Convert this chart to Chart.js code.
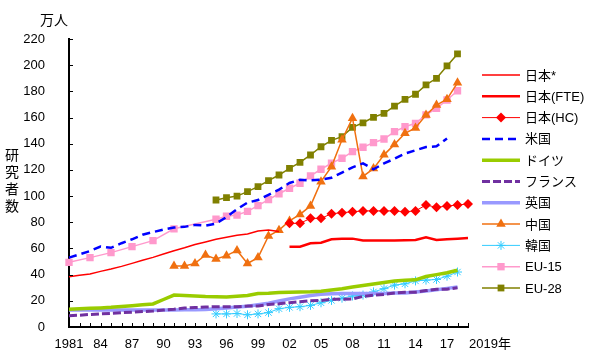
<!DOCTYPE html>
<html><head><meta charset="utf-8">
<script src="https://cdn.jsdelivr.net/npm/chart.js@4/dist/chart.umd.min.js"></script>
<style>html,body{margin:0;padding:0;background:#fff}canvas{display:block}</style>
</head><body>
<canvas id="c" width="600" height="362"></canvas>
<script>
const years = ['1981','1982','1983','1984','1985','1986','1987','1988','1989','1990','1991','1992','1993','1994','1995','1996','1997','1998','1999','2000','2001','2002','2003','2004','2005','2006','2007','2008','2009','2010','2011','2012','2013','2014','2015','2016','2017','2018','2019'];
const tickYears = ['1981','1984','1987','1990','1993','1996','1999','2002','2005','2008','2011','2014','2017'];
const tickText  = ['1981','84','87','90','93','96','99','02','05','08','11','14','17'];
const lastLabel = '2019年';
const yUnit = '万人';
const yTitle = '研究者数';

// values (万人); comment = year range
const japanOld = [38.4,39.5,40.5,42.5,44.3,46.3,48.6,51.0,53.2,55.8,58.3,60.5,63.0,65.0,67.0,68.5,70.0,71.0,73.3,74.0,73.0]; // 1981-2001
const japanFTE = [61.3,61.3,63.9,64.4,67.0,67.5,67.5,66.0,66.0,66.0,66.0,66.2,66.5,68.5,66.5,67.0,67.5,68.0]; // 2002-2019
const japanHC  = [79.2,79.2,83.0,83.0,86.5,87.3,88.0,88.7,88.7,88.7,88.7,88.0,88.7,93.2,91.4,92.4,93.2,94.0]; // 2002-2019
const usa      = [53.0,55.5,58.0,61.5,60.5,64.0,67.0,70.5,72.5,74.5,76.0,76.5,78.0,77.5,79.0,84.0,90.0,95.0,97.0,101.0,105.0,110.0,112.5,112.0,112.5,114.0,118.0,122.0,125.0,120.5,125.0,128.5,132.5,135.0,137.5,138.0,144.0]; // 1981-2017
const germany  = [13.5,13.9,14.3,14.6,15.0,15.7,16.3,17.0,17.6,21.0,24.4,24.0,23.7,23.3,23.1,23.0,23.5,24.0,25.5,25.8,26.4,26.6,26.8,27.0,27.4,28.3,29.3,30.5,31.7,32.8,34.0,35.2,35.8,36.0,38.6,40.0,41.4,43.4]; // 1981-2018
const france   = [8.6,9.0,9.6,10.0,10.4,10.9,11.3,11.8,12.2,12.9,13.5,14.5,14.9,15.2,15.5,15.5,15.5,16.0,16.0,17.2,17.7,18.6,19.3,20.0,20.3,21.1,21.2,21.5,23.4,24.3,24.9,25.9,26.6,26.6,27.8,28.8,28.9,30.0]; // 1981-2018
const uk       = [13.0,13.0,13.0,13.0,13.0,13.0,13.0,13.0,13.0,13.0,13.0,13.1,13.2,13.4,14.0,14.5,15.2,15.8,17.0,18.2,19.8,21.5,22.8,24.0,25.0,25.4,25.5,25.5,25.6,25.6,25.5,25.9,26.0,26.8,27.5,28.4,29.5,30.5]; // 1981-2018
const china    = [46.6,46.6,48.6,55.0,52.0,54.5,58.5,48.5,53.0,69.5,74.0,81.0,86.0,92.5,111.0,122.5,143.0,159.5,115.0,121.0,131.5,139.5,148.0,152.0,162.0,169.5,174.0,186.5]; // 1991-2018
const korea    = [10.0,10.0,10.3,9.3,10.0,11.0,14.0,15.0,15.5,16.5,18.5,20.3,22.0,23.7,24.4,26.8,29.3,32.0,33.0,35.2,35.8,36.3,38.8,42.0]; // 1995-2018
const eu15     = [49.4,null,53.0,null,56.8,null,61.4,null,66.0,null,75.0,null,null,null,82.3,84.6,85.5,88.3,92.7,97.3,101.8,106.0,109.8,115.4,120.5,125.2,128.9,134.0,137.3,140.8,143.6,149.2,153.0,155.6,162.0,167.0,173.4,180.5]; // 1981-2018
const eu28     = [97.0,98.8,100.0,103.4,107.2,111.8,116.1,121.2,125.8,131.4,137.7,142.6,145.4,152.5,156.0,160.2,163.2,168.8,173.9,177.8,184.9,190.0,199.4,208.6]; // 1995-2018

function place(startYear, vals){
  const out = years.map(()=>null);
  const s = years.indexOf(String(startYear));
  vals.forEach((v,i)=>{ out[s+i]=v; });
  return out;
}

const datasets = [
  {label:'日本*', data:place(1981,japanOld), borderColor:'#ff0000', borderWidth:1.5, pointRadius:0},
  {label:'日本(FTE)', data:place(2002,japanFTE), borderColor:'#ff0000', borderWidth:2.5, pointRadius:0},
  {label:'日本(HC)', data:place(2002,japanHC), borderColor:'#ff0000', backgroundColor:'#ff0000', borderWidth:1, pointStyle:'rectRot', pointRadius:5, pointBorderWidth:0},
  {label:'米国', data:place(1981,usa), borderColor:'#0000ff', borderWidth:2.5, borderDash:[8,5], pointRadius:0},
  {label:'ドイツ', data:place(1981,germany), borderColor:'#99cc00', borderWidth:3.5, pointRadius:0},
  {label:'フランス', data:place(1981,france), borderColor:'#7030a0', borderWidth:3, borderDash:[8,3], pointRadius:0},
  {label:'英国', data:place(1981,uk), borderColor:'#9999ff', borderWidth:3.5, pointRadius:0},
  {label:'中国', data:place(1991,china), borderColor:'#f07010', backgroundColor:'#f07010', borderWidth:1.5, pointStyle:'triangle', pointRadius:5.5, pointBorderWidth:0},
  {label:'韓国', data:place(1995,korea), borderColor:'#33ccff', backgroundColor:'#33ccff', borderWidth:1, pointStyle:'star', pointRadius:4.5, pointBorderWidth:1},
  {label:'EU-15', data:place(1981,eu15), borderColor:'#ff99cc', backgroundColor:'#ff99cc', borderWidth:1.5, pointStyle:'rect', pointRadius:5.2, pointBorderWidth:0, spanGaps:true},
  {label:'EU-28', data:place(1995,eu28), borderColor:'#808000', backgroundColor:'#808000', borderWidth:1.5, pointStyle:'rect', pointRadius:4.8, pointBorderWidth:0}
];
datasets.forEach(d=>{ d.tension=0; d.fill=false; });

const LATIN = '"Liberation Sans", "Noto Sans CJK JP", sans-serif';

function marker(ctx, style, r, x, y, color){
  ctx.save();
  ctx.fillStyle = color; ctx.strokeStyle = color; ctx.lineWidth = 1; ctx.setLineDash([]);
  ctx.beginPath();
  if (style==='rect'){ const s=r*Math.SQRT1_2; ctx.rect(x-s,y-s,2*s,2*s); ctx.fill(); }
  else if (style==='rectRot'){ ctx.moveTo(x,y-r); ctx.lineTo(x+r,y); ctx.lineTo(x,y+r); ctx.lineTo(x-r,y); ctx.closePath(); ctx.fill(); }
  else if (style==='triangle'){ ctx.moveTo(x,y-r); ctx.lineTo(x+r*Math.sqrt(3)/2,y+r/2); ctx.lineTo(x-r*Math.sqrt(3)/2,y+r/2); ctx.closePath(); ctx.fill(); }
  else if (style==='star'){ for(let k=0;k<4;k++){ const a=k*Math.PI/4; ctx.moveTo(x-Math.cos(a)*r,y-Math.sin(a)*r); ctx.lineTo(x+Math.cos(a)*r,y+Math.sin(a)*r);} ctx.stroke(); }
  ctx.restore();
}

const decor = {
  id:'decor',
  afterDraw(chart){
    const {ctx, chartArea:a, scales:{x,y}} = chart;
    ctx.save();
    ctx.strokeStyle='#000'; ctx.lineWidth=1; ctx.setLineDash([]);
    ctx.beginPath();
    for(let i=0;i<years.length;i++){
      const px=Math.round(x.getPixelForValue(i))+0.5;
      ctx.moveTo(px,a.bottom); ctx.lineTo(px,a.bottom-4);
    }
    y.ticks.forEach(t=>{
      const py=Math.round(y.getPixelForValue(t.value))+0.5;
      ctx.moveTo(a.left,py); ctx.lineTo(a.left+4,py);
    });
    ctx.stroke();
    ctx.fillStyle='#000';
    ctx.font='14px "Noto Sans CJK JP"';
    ctx.textAlign='center'; ctx.textBaseline='middle';
    ctx.fillText(yUnit,54,20);
    [...yTitle].forEach((ch,i)=>ctx.fillText(ch,12,155+i*17));
    ctx.font='13px '+LATIN;
    ctx.textAlign='left';
    ctx.fillText(lastLabel, x.getPixelForValue(years.length-1)+1, 344);
    // legend
    chart.data.datasets.forEach((d,i)=>{
      const ly = 75 + i*21.3;
      ctx.save();
      ctx.strokeStyle=d.borderColor; ctx.lineWidth=d.borderWidth;
      ctx.setLineDash(d.borderDash||[]);
      ctx.beginPath(); ctx.moveTo(482,ly); ctx.lineTo(520,ly); ctx.stroke();
      ctx.restore();
      if (d.pointRadius>0) marker(ctx,d.pointStyle,d.pointRadius,501,ly,d.borderColor);
      ctx.fillStyle='#000'; ctx.font='13px '+LATIN; ctx.textAlign='left'; ctx.textBaseline='middle';
      ctx.fillText(d.label,525,ly+1);
    });
    ctx.restore();
  }
};

new Chart(document.getElementById('c'),{
  type:'line',
  data:{labels:years, datasets},
  options:{
    responsive:false, animation:false, devicePixelRatio:1,
    layout:{padding:{top:39,right:132,left:0,bottom:0}},
    plugins:{legend:{display:false}, tooltip:{enabled:false}},
    scales:{
      x:{
        type:'category', offset:false,
        grid:{display:false},
        border:{display:true,color:'#000',width:2},
        ticks:{autoSkip:false,maxRotation:0,padding:2,color:'#000',font:{family:LATIN,size:13},
          callback:function(v,i){ const k=tickYears.indexOf(years[i]); return k>=0?tickText[k]:''; }},
        afterFit:s=>{ s.height=35; }
      },
      y:{
        min:0,max:220,
        grid:{display:false},
        border:{display:true,color:'#000',width:2},
        ticks:{stepSize:20,padding:16,color:'#000',font:{family:LATIN,size:13}},
        afterFit:s=>{ s.width=69; }
      }
    }
  },
  plugins:[decor]
});
</script>
</body></html>
